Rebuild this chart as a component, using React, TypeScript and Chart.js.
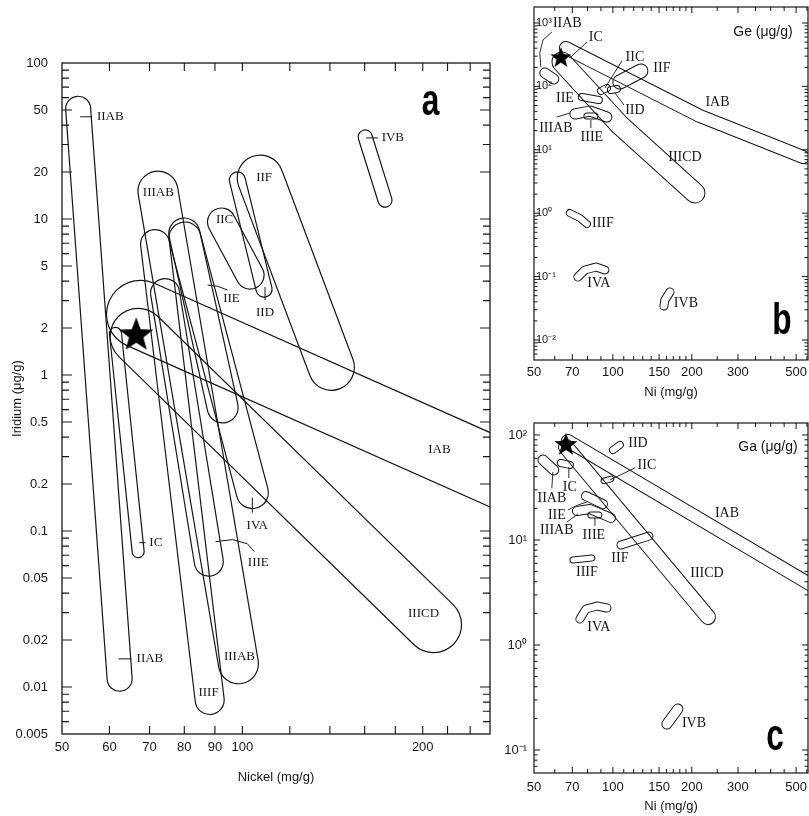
import React, { useEffect, useRef } from 'react';
import { Chart, registerables } from 'chart.js';

Chart.register(...registerables);

const INK = '#161616';
Chart.defaults.font.family = '"Liberation Sans", Arial, sans-serif';
Chart.defaults.color = INK;

// ================= Panel a : Iridium (µg/g) vs Nickel (mg/g) =================
const A_GROUPS = ['IIAB', 'IC', 'IIIAB', 'IIIF', 'IIE', 'IVA', 'IIIE', 'IIC', 'IID', 'IIF', 'IVB', 'IIICD', 'IAB'];
const A_NI = [[53.2, 62.4], [61.4, 67.0], [72.3, 98.5], [71.5, 88.2], [80.0, 92.7], [80.2, 103.9], [74.3, 87.9], [92.3, 103.0], [98.1, 108.7], [107.1, 140.8], [160.3, 173.0], [67.0, 208.5], [67.6, 400]];
const A_IR = [[50.9, 0.0113], [1.85, 0.0737], [15.1, 0.0141], [6.91, 0.00826], [8.07, 0.62], [7.55, 0.1765], [3.35, 0.0636], [9.56, 4.37], [17.8, 3.55], [18.3, 1.12], [33.6, 13.2], [1.77, 0.0251], [2.45, 0.1175]];
const A_STAR_NI = [66.5];
const A_STAR_IR = [1.8];
const A_LABELS = ['IIAB', 'IIAB', 'IIIAB', 'IIIAB', 'IIC', 'IIF', 'IVB', 'IIE', 'IID', 'IC', 'IVA', 'IIIE', 'IIIF', 'IAB', 'IIICD'];
const A_LABEL_NI = [60.2, 70.1, 72.4, 98.9, 93.4, 108.7, 178.3, 95.9, 109.1, 71.7, 105.9, 106.3, 87.8, 213.2, 200.6];
const A_LABEL_IR = [45.2, 0.01515, 14.69, 0.0156, 9.85, 18.34, 33.1, 3.11, 2.53, 0.0842, 0.1083, 0.0627, 0.00916, 0.333, 0.0295];
const A_LEADER_NI = [[53.6, 56.1], [62.1, 65.3], [160.9, 168.4], [87.5, 90.9, 94.5], [109.1, 109.1], [67.3, 68.9], [103.9, 103.9], [90.2, 96.3, 101.9, 104.7]];
const A_LEADER_IR = [[45.2, 45.2], [0.01515, 0.01515], [33.1, 33.1], [3.77, 3.71, 3.5], [3.66, 3.02], [0.0842, 0.0842], [0.1639, 0.1313], [0.0855, 0.0881, 0.083, 0.0738]];
const A_X_TICKS = [50, 60, 70, 80, 90, 100, 200];
const A_X_TICK_TEXT = ['50', '60', '70', '80', '90', '100', '200'];
const A_Y_TICKS = [0.005, 0.01, 0.02, 0.05, 0.1, 0.2, 0.5, 1, 2, 5, 10, 20, 50, 100];
const A_Y_TICK_TEXT = ['0.005', '0.01', '0.02', '0.05', '0.1', '0.2', '0.5', '1', '2', '5', '10', '20', '50', '100'];
const A_X_MINOR = [60, 70, 80, 90, 100, 120, 140, 160, 180, 200, 220, 240];
const A_TAG = ['a'];
const A_TAG_NI = [206.1];
const A_TAG_IR = [55.6];

// ================= Panel b : Ge (µg/g) vs Ni (mg/g) =================
const B_GROUPS = ['IAB', 'IIICD', 'IIAB', 'IIC', 'IIF', 'IID', 'IIE', 'IIIAB', 'IIIE', 'IIIF', 'IVA', 'IVB'];
const B_NI = [[66.2, 214.8, 531], [63.9, 106.3, 205.6], [55.0, 59.5], [90.0, 94.9], [106.3, 127.9], [98.3, 103.6], [76.1, 88.4], [71.6, 81.7, 94.9], [79.6, 85.4], [68.5, 74.8, 79.6], [73.5, 78.2, 86.1, 93.2], [165.1, 157.9, 156.5]];
const B_GE = [[403, 34.1, 7.7], [242.7, 24.6, 2.08], [162.7, 130.8], [84.6, 94.4], [117.3, 175.0], [87.7, 91.0], [68.1, 61.0], [36.7, 40.9, 32.9], [34.1, 34.1], [1.007, 0.84, 0.676], [0.0986, 0.1271, 0.1417, 0.1271], [0.0572, 0.0428, 0.0344]];
const B_STAR_NI = [63.3];
const B_STAR_GE = [280];
const B_LABELS = ['IIAB', 'IC', 'IIC', 'IIF', 'IID', 'IIE', 'IIIAB', 'IIIE', 'IAB', 'IIICD', 'IIIF', 'IVA', 'IVB'];
const B_LABEL_NI = [67.0, 86.1, 121.3, 153.8, 121.3, 65.6, 60.6, 83.1, 250.5, 188.3, 91.6, 88.4, 189.9];
const B_LABEL_GE = [1000, 601, 290.9, 195.1, 42.4, 65.6, 22.1, 15.9, 56.8, 7.7, 0.7, 0.0793, 0.0383];
const B_LEADER_NI = [[53.1, 52.6, 54.1, 58.5], [79.6, 69.1], [93.2, 108.2], [101.8, 110.2], [61.1, 68.5], [82.4, 82.4]];
const B_LEADER_GE = [[202.3, 336.4, 539.5, 721], [501, 290.9], [94.4, 251.6], [78.7, 50.9], [32.9, 38.0], [29.5, 22.1]];
const B_X_TICKS = [50, 70, 100, 150, 200, 300, 500];
const B_X_TICK_TEXT = ['50', '70', '100', '150', '200', '300', '500'];
const B_Y_TICKS = [0.01, 0.1, 1, 10, 100, 1000];
const B_Y_TICK_TEXT = ['10\u207B\u00B2', '10\u207B\u00B9', '10\u2070', '10\u00B9', '10\u00B2', '10\u00B3'];
const BC_X_MINOR = [60, 70, 80, 90, 100, 110, 120, 130, 140, 150, 160, 170, 180, 190, 200, 250, 300, 350, 400, 450, 500, 550];
const B_NOTE = ['Ge (\u03BCg/g)'];
const B_NOTE_NI = [373.7];
const B_NOTE_GE = [721];
const B_TAG = ['b'];
const B_TAG_NI = [441.6];
const B_TAG_GE = [0.01923];

// ================= Panel c : Ga (µg/g) vs Ni (mg/g) =================
const C_GROUPS = ['IAB', 'IIICD', 'IIAB', 'IC', 'IID', 'IIC', 'IIE', 'IIIAB', 'IIIE', 'IIIF', 'IIF', 'IVA', 'IVB'];
const C_NI = [[67.3, 802.9], [66.2, 230.5], [54.1, 59.5], [63.3, 68.5], [100, 106.3], [92.4, 98.3], [78.9, 91.6], [72.9, 81.7, 98.3], [82.4, 88.4], [70.4, 83.1], [107.3, 137.2], [74.8, 78.9, 86.9, 94.9], [160.7, 177.0]];
const C_GA = [[87.7, 2.25], [76.9, 1.848], [57.8, 46.4], [54.1, 51.8], [71.9, 80.3], [36.5, 38.1], [26.2, 22.0], [18.9, 19.7, 16.2], [17.3, 17.3], [6.45, 6.74], [8.96, 10.9], [1.768, 2.2, 2.35, 2.25], [0.1768, 0.2457]];
const C_STAR_NI = [66.2];
const C_STAR_GA = [80.3];
const C_LABELS = ['IIAB', 'IC', 'IID', 'IIC', 'IIE', 'IIIAB', 'IIIE', 'IIIF', 'IIF', 'IAB', 'IIICD', 'IVA', 'IVB'];
const C_LABEL_NI = [58.5, 68.5, 124.6, 134.8, 61.1, 61.1, 84.6, 79.6, 106.3, 272.3, 228.5, 88.4, 203.8];
const C_LABEL_GA = [25.1, 32.0, 83.9, 51.8, 17.3, 12.45, 11.16, 4.96, 6.74, 18.08, 4.85, 1.484, 0.1808];
const C_LEADER_NI = [[59.0, 58.5], [67.9, 67.9], [97.4, 121.3], [67.3, 73.5, 79.6], [66.7, 73.5], [85.4, 85.4]];
const C_LEADER_GA = [[44.4, 31.3], [49.6, 38.9], [37.3, 48.5], [19.3, 21.5, 23.0], [14.8, 17.7], [16.2, 13.6]];
const C_Y_TICKS = [0.1, 1, 10, 100];
const C_Y_TICK_TEXT = ['10\u207B\u00B9', '10\u2070', '10\u00B9', '10\u00B2'];
const C_NOTE = ['Ga (\u03BCg/g)'];
const C_NOTE_NI = [390.5];
const C_NOTE_GA = [76.9];
const C_TAG = ['c'];
const C_TAG_NI = [415.3];
const C_TAG_GA = [0.13];

// ================= styles (pixel sizes) =================
const A_HALF_WIDTH = [12.5, 6, 20, 14.5, 15.5, 16, 14.5, 14, 8, 23, 7, 28, 34];
const B_HALF_WIDTH = [6.5, 10, 5, 3.5, 7, 3.5, 3.5, 5, 3, 3.5, 4, 4];
const C_HALF_WIDTH = [6.5, 7.5, 5, 3.5, 3.5, 2.8, 4.5, 4.5, 3, 3, 4, 4, 5];

function decadeTicks(lo: number, hi: number): number[] {
  const out: number[] = [];
  for (let k = Math.floor(Math.log10(lo)) - 1; k <= Math.ceil(Math.log10(hi)); k++) {
    for (let n = 1; n <= 9; n++) {
      const v = +(n * Math.pow(10, k)).toPrecision(6);
      if (v > lo * 1.001 && v < hi / 1.001) out.push(v);
    }
  }
  return out;
}
const isDecade = (v: number) => Math.abs(Math.log10(v) - Math.round(Math.log10(v))) < 1e-6;

function makeStar(R: number): HTMLCanvasElement {
  const c = document.createElement('canvas');
  const size = Math.ceil(2 * R + 2);
  c.width = size;
  c.height = size;
  const g = c.getContext('2d')!;
  g.translate(size / 2, size / 2);
  g.beginPath();
  for (let i = 0; i < 10; i++) {
    const rr = i % 2 === 0 ? R : R * 0.42;
    const a = -Math.PI / 2 + (i * Math.PI) / 5;
    if (i === 0) g.moveTo(rr * Math.cos(a), rr * Math.sin(a));
    else g.lineTo(rr * Math.cos(a), rr * Math.sin(a));
  }
  g.closePath();
  g.fillStyle = '#000';
  g.fill();
  return c;
}

type Spec = any;

function drawCapsules(chart: any, s: Spec) {
  const { ctx, chartArea: ca, scales } = chart;
  const x = scales.x, y = scales.y;
  const w = chart.canvas.width, h = chart.canvas.height;
  const oc = document.createElement('canvas');
  oc.width = w;
  oc.height = h;
  const o = oc.getContext('2d')!;
  ctx.save();
  ctx.beginPath();
  ctx.rect(ca.left, ca.top, ca.right - ca.left, ca.bottom - ca.top);
  ctx.clip();
  chart.data.datasets.forEach((ds: any) => {
    if (ds.capsule === undefined) return;
    o.clearRect(0, 0, w, h);
    o.lineCap = 'round';
    o.lineJoin = 'round';
    o.beginPath();
    ds.data.forEach((p: any, j: number) => {
      const px = x.getPixelForValue(p.x), py = y.getPixelForValue(p.y);
      if (j === 0) o.moveTo(px, py);
      else o.lineTo(px, py);
    });
    o.globalCompositeOperation = 'source-over';
    o.strokeStyle = INK;
    o.lineWidth = 2 * ds.capsule + s.lineW;
    o.stroke();
    o.globalCompositeOperation = 'destination-out';
    o.lineWidth = Math.max(0.1, 2 * ds.capsule - s.lineW);
    o.stroke();
    o.globalCompositeOperation = 'source-over';
    ctx.drawImage(oc, 0, 0);
  });
  ctx.restore();
}

function drawFrame(chart: any, s: Spec) {
  const { ctx, chartArea: ca, scales } = chart;
  const x = scales.x, y = scales.y;
  ctx.save();
  ctx.strokeStyle = INK;
  ctx.lineWidth = s.frameW;
  ctx.strokeRect(ca.left, ca.top, ca.right - ca.left, ca.bottom - ca.top);
  ctx.lineWidth = s.tickW;
  ctx.beginPath();
  s.xMinor.forEach((v: number) => {
    const px = x.getPixelForValue(v);
    if (px < ca.left + 1 || px > ca.right - 1) return;
    const L = s.xLen(v);
    ctx.moveTo(px, ca.bottom);
    ctx.lineTo(px, ca.bottom - L);
    ctx.moveTo(px, ca.top);
    ctx.lineTo(px, ca.top + L);
  });
  s.yMinor.forEach((v: number) => {
    const py = y.getPixelForValue(v);
    if (py < ca.top + 1 || py > ca.bottom - 1) return;
    const L = s.yLen(v);
    ctx.moveTo(ca.left, py);
    ctx.lineTo(ca.left + L, py);
    ctx.moveTo(ca.right, py);
    ctx.lineTo(ca.right - L, py);
  });
  ctx.stroke();
  ctx.restore();
}

function drawAnnotations(chart: any, s: Spec) {
  const { ctx, scales } = chart;
  const x = scales.x, y = scales.y;
  ctx.save();
  ctx.fillStyle = INK;
  ctx.strokeStyle = INK;
  ctx.textAlign = 'center';
  ctx.textBaseline = 'middle';
  ctx.font = s.labelFont;
  s.labels.forEach((t: string, i: number) => {
    ctx.fillText(t, x.getPixelForValue(s.labelX[i]), y.getPixelForValue(s.labelY[i]));
  });
  ctx.lineWidth = s.leaderW;
  s.leaderX.forEach((xs: number[], i: number) => {
    ctx.beginPath();
    xs.forEach((v, j) => {
      const px = x.getPixelForValue(v), py = y.getPixelForValue(s.leaderY[i][j]);
      if (j === 0) ctx.moveTo(px, py);
      else ctx.lineTo(px, py);
    });
    ctx.stroke();
  });
  if (s.note) {
    ctx.font = '14px "Liberation Sans", Arial, sans-serif';
    s.note.forEach((t: string, i: number) => {
      ctx.fillText(t, x.getPixelForValue(s.noteX[i]), y.getPixelForValue(s.noteY[i]));
    });
  }
  s.tag.forEach((t: string, i: number) => {
    ctx.save();
    ctx.translate(x.getPixelForValue(s.tagX[i]), y.getPixelForValue(s.tagY[i]));
    ctx.scale(0.72, 1);
    ctx.font = 'bold 44px "Liberation Sans", Arial, sans-serif';
    ctx.fillStyle = '#000';
    ctx.fillText(t, 0, 0);
    ctx.restore();
  });
  ctx.restore();
}

function buildConfig(s: Spec): any {
  const datasets: any[] = s.groups.map((g: string, i: number) => ({
    label: g,
    data: s.shapeX[i].map((v: number, j: number) => ({ x: v, y: s.shapeY[i][j] })),
    showLine: false,
    pointRadius: 0,
    pointHoverRadius: 0,
    borderWidth: 0,
    capsule: s.halfWidth[i],
  }));
  datasets.push({
    label: 'Fe-Ni metal',
    data: s.starX.map((v: number, i: number) => ({ x: v, y: s.starY[i] })),
    pointStyle: makeStar(s.starR),
    pointRadius: s.starR,
    pointHoverRadius: s.starR,
    showLine: false,
  });
  const plugin = {
    id: 'meteoriteDecor',
    beforeDatasetsDraw(chart: any) { drawCapsules(chart, s); },
    afterDatasetsDraw(chart: any) { drawFrame(chart, s); drawAnnotations(chart, s); },
  };
  const noPad = (sc: any) => { sc.paddingLeft = 0; sc.paddingRight = 0; sc.paddingTop = 0; sc.paddingBottom = 0; };
  return {
    type: 'scatter',
    data: { datasets },
    plugins: [plugin],
    options: {
      animation: false,
      responsive: false,
      maintainAspectRatio: false,
      devicePixelRatio: 1,
      events: [],
      layout: { padding: s.pad, autoPadding: false },
      plugins: { legend: { display: false }, tooltip: { enabled: false }, title: { display: false } },
      scales: {
        x: {
          type: 'logarithmic',
          position: 'bottom',
          min: s.xMin,
          max: s.xMax,
          bounds: 'data',
          afterFit: (sc: any) => { sc.height = s.xHeight; noPad(sc); },
          afterBuildTicks: (sc: any) => { sc.ticks = s.xTicks.map((v: number) => ({ value: v })); },
          ticks: {
            autoSkip: false, maxRotation: 0, minRotation: 0, padding: s.xPad, color: INK,
            font: { size: 13 },
            callback: (_v: any, i: number) => s.xTickText[i],
          },
          grid: { display: false, drawTicks: false },
          border: { display: false },
          title: { display: true, text: s.xTitle, color: INK, font: { size: 13 }, padding: { top: 0, bottom: s.xTitlePad } },
        },
        y: {
          type: 'logarithmic',
          position: 'left',
          min: s.yMin,
          max: s.yMax,
          bounds: 'data',
          afterFit: (sc: any) => { sc.width = s.yWidth; noPad(sc); },
          afterBuildTicks: (sc: any) => { sc.ticks = s.yTicks.map((v: number) => ({ value: v })); },
          ticks: {
            autoSkip: false, padding: s.yPad, mirror: s.yMirror, color: INK,
            font: { size: s.yFont },
            callback: (_v: any, i: number) => s.yTickText[i],
          },
          grid: { display: false, drawTicks: false },
          border: { display: false },
          title: s.yTitle
            ? { display: true, text: s.yTitle, color: INK, font: { size: 13 }, padding: { top: s.yTitlePad, bottom: 0 } }
            : { display: false },
        },
      },
    },
  };
}

const A_LABELED = new Set(A_Y_TICKS);
const SPEC_A: Spec = {
  left: 0, top: 0, w: 500, h: 800,
  pad: { left: 0, right: 10, top: 63, bottom: 0 },
  yWidth: 62, xHeight: 66,
  xMin: 50, xMax: 259, yMin: 0.005, yMax: 100,
  xTicks: A_X_TICKS, xTickText: A_X_TICK_TEXT, xPad: 6,
  yTicks: A_Y_TICKS, yTickText: A_Y_TICK_TEXT, yPad: 14, yMirror: false, yFont: 13,
  xTitle: 'Nickel (mg/g)', xTitlePad: 15,
  yTitle: 'Iridium (\u03BCg/g)', yTitlePad: 10,
  groups: A_GROUPS, shapeX: A_NI, shapeY: A_IR, halfWidth: A_HALF_WIDTH,
  starX: A_STAR_NI, starY: A_STAR_IR, starR: 18,
  labels: A_LABELS, labelX: A_LABEL_NI, labelY: A_LABEL_IR,
  labelFont: '13px "Liberation Serif", "Times New Roman", serif',
  leaderX: A_LEADER_NI, leaderY: A_LEADER_IR,
  tag: A_TAG, tagX: A_TAG_NI, tagY: A_TAG_IR,
  xMinor: A_X_MINOR, yMinor: decadeTicks(0.005, 100),
  xLen: () => 8, yLen: (v: number) => (A_LABELED.has(v) ? 10 : 7),
  lineW: 1.2, frameW: 1.3, tickW: 1.1, leaderW: 1,
};

const SPEC_B: Spec = {
  left: 495, top: 0, w: 314, h: 400,
  pad: { left: 0, right: 1, top: 7, bottom: 0 },
  yWidth: 39, xHeight: 40,
  xMin: 50, xMax: 555, yMin: 0.00484, yMax: 1788,
  xTicks: B_X_TICKS, xTickText: B_X_TICK_TEXT, xPad: 5,
  yTicks: B_Y_TICKS, yTickText: B_Y_TICK_TEXT, yPad: 2, yMirror: true, yFont: 11,
  xTitle: 'Ni (mg/g)', xTitlePad: 0,
  groups: B_GROUPS, shapeX: B_NI, shapeY: B_GE, halfWidth: B_HALF_WIDTH,
  starX: B_STAR_NI, starY: B_STAR_GE, starR: 11,
  labels: B_LABELS, labelX: B_LABEL_NI, labelY: B_LABEL_GE,
  labelFont: '14px "Liberation Serif", "Times New Roman", serif',
  leaderX: B_LEADER_NI, leaderY: B_LEADER_GE,
  note: B_NOTE, noteX: B_NOTE_NI, noteY: B_NOTE_GE,
  tag: B_TAG, tagX: B_TAG_NI, tagY: B_TAG_GE,
  xMinor: BC_X_MINOR, yMinor: decadeTicks(0.00484, 1788),
  xLen: (v: number) => (B_X_TICKS.includes(v) ? 6 : 4), yLen: (v: number) => (isDecade(v) ? 6 : 3.5),
  lineW: 1.0, frameW: 1.2, tickW: 1, leaderW: 0.9,
};

const SPEC_C: Spec = {
  left: 495, top: 400, w: 314, h: 416,
  pad: { left: 0, right: 1, top: 23, bottom: 0 },
  yWidth: 39, xHeight: 43,
  xMin: 50, xMax: 555, yMin: 0.0604, yMax: 130,
  xTicks: B_X_TICKS, xTickText: B_X_TICK_TEXT, xPad: 7,
  yTicks: C_Y_TICKS, yTickText: C_Y_TICK_TEXT, yPad: 7, yMirror: false, yFont: 13,
  xTitle: 'Ni (mg/g)', xTitlePad: 2,
  groups: C_GROUPS, shapeX: C_NI, shapeY: C_GA, halfWidth: C_HALF_WIDTH,
  starX: C_STAR_NI, starY: C_STAR_GA, starR: 12,
  labels: C_LABELS, labelX: C_LABEL_NI, labelY: C_LABEL_GA,
  labelFont: '14px "Liberation Serif", "Times New Roman", serif',
  leaderX: C_LEADER_NI, leaderY: C_LEADER_GA,
  note: C_NOTE, noteX: C_NOTE_NI, noteY: C_NOTE_GA,
  tag: C_TAG, tagX: C_TAG_NI, tagY: C_TAG_GA,
  xMinor: BC_X_MINOR, yMinor: decadeTicks(0.0604, 130),
  xLen: (v: number) => (B_X_TICKS.includes(v) ? 6 : 4), yLen: (v: number) => (isDecade(v) ? 6 : 3.5),
  lineW: 1.0, frameW: 1.2, tickW: 1, leaderW: 0.9,
};

function Panel({ spec }: { spec: Spec }) {
  const ref = useRef<HTMLCanvasElement>(null);
  useEffect(() => {
    const chart = new Chart(ref.current as HTMLCanvasElement, buildConfig(spec));
    return () => chart.destroy();
  }, [spec]);
  return (
    <canvas
      ref={ref}
      width={spec.w}
      height={spec.h}
      style={{ position: 'absolute', left: spec.left, top: spec.top, width: spec.w, height: spec.h }}
    />
  );
}

export default function App() {
  return (
    <div style={{ position: 'fixed', left: 0, top: 0, width: 809, height: 816, background: '#fff', overflow: 'hidden' }}>
      <Panel spec={SPEC_A} />
      <Panel spec={SPEC_B} />
      <Panel spec={SPEC_C} />
    </div>
  );
}
